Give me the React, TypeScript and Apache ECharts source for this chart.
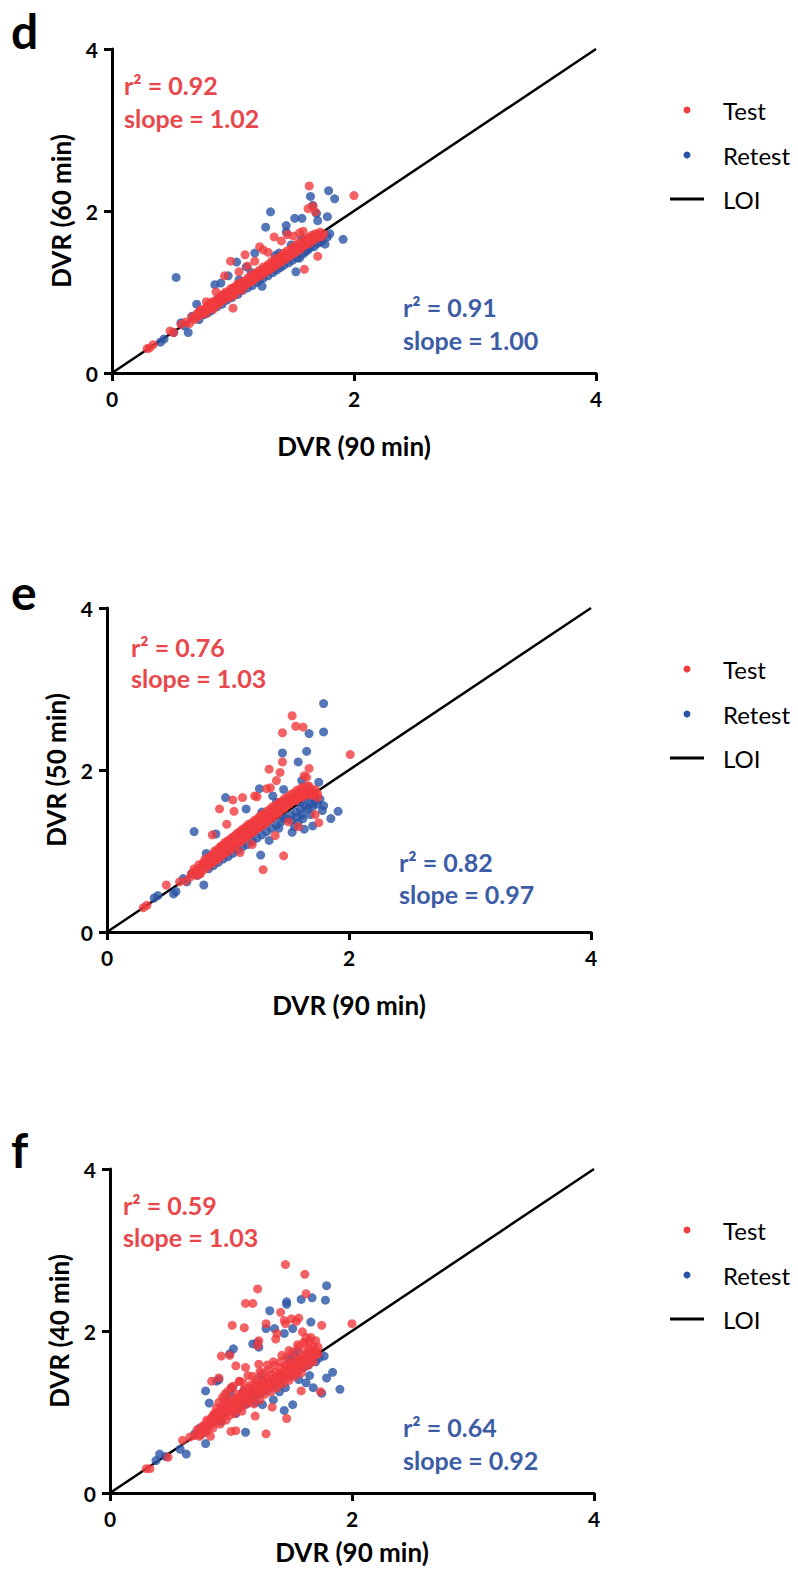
import React, { useEffect, useRef } from "react";
import * as echarts from "echarts";

// ---------- data ----------
const panelLetters = ["d", "e", "f"];
const yAxisNames = ["DVR (60 min)", "DVR (50 min)", "DVR (40 min)"];
const xAxisName = "DVR (90 min)";
const legendLabels = ["Test", "Retest", "LOI"];
const testR2 = ["0.92", "0.76", "0.59"];
const testSlope = ["1.02", "1.03", "1.03"];
const retestR2 = ["0.91", "0.82", "0.64"];
const retestSlope = ["1.00", "0.97", "0.92"];
const loiLine = [[0, 0], [4, 4]];

const dTest = [
  [0.29,0.30],[0.31,0.31],[0.34,0.35],[0.48,0.52],[0.51,0.50],[0.57,0.60],[0.61,0.63],[0.64,0.61],[0.66,0.69],[0.68,0.66],
  [0.70,0.73],[0.71,0.69],[0.73,0.78],[0.74,0.72],[0.75,0.76],[0.77,0.80],[0.78,0.74],[0.79,0.83],[0.80,0.78],[0.81,0.86],
  [0.82,0.81],[0.83,0.88],[0.84,0.79],[0.85,0.87],[0.86,0.90],[0.87,0.84],[0.88,0.92],[0.89,0.87],[0.90,0.95],[0.91,0.89],
  [0.92,0.97],[0.93,0.91],[0.94,1.00],[0.95,0.94],[0.96,0.99],[0.97,0.93],[0.98,1.04],[0.99,0.97],[1.00,1.02],[1.01,0.96],
  [1.02,1.07],[1.03,1.01],[1.04,1.10],[1.05,1.04],[1.06,1.08],[1.07,1.02],[1.08,1.13],[1.09,1.06],[1.10,1.12],[1.11,1.09],
  [1.12,1.17],[1.13,1.11],[1.14,1.15],[1.15,1.21],[1.16,1.13],[1.17,1.19],[1.18,1.16],[1.19,1.24],[1.20,1.18],[1.21,1.22],
  [1.22,1.27],[1.23,1.20],[1.24,1.25],[1.25,1.31],[1.26,1.23],[1.27,1.29],[1.28,1.26],[1.29,1.34],[1.30,1.27],[1.31,1.32],
  [1.32,1.38],[1.33,1.30],[1.34,1.35],[1.35,1.41],[1.36,1.33],[1.37,1.39],[1.38,1.36],[1.39,1.44],[1.40,1.37],[1.41,1.42],
  [1.42,1.48],[1.43,1.40],[1.44,1.45],[1.45,1.51],[1.46,1.43],[1.47,1.49],[1.48,1.46],[1.49,1.55],[1.50,1.47],[1.51,1.52],
  [1.52,1.58],[1.53,1.50],[1.54,1.56],[1.55,1.61],[1.56,1.53],[1.57,1.59],[1.58,1.57],[1.59,1.64],[1.60,1.58],[1.61,1.62],
  [1.62,1.67],[1.63,1.60],[1.64,1.65],[1.65,1.70],[1.66,1.63],[1.67,1.68],[1.68,1.72],[1.69,1.66],[1.71,1.70],[1.73,1.68],[1.75,1.72],
  [0.72,0.75],[0.74,0.77],[0.76,0.75],[0.79,0.80],[0.81,0.81],[0.83,0.84],[0.84,0.86],[0.86,0.85],[0.88,0.89],[0.90,0.91],
  [0.91,0.93],[0.93,0.94],[0.95,0.97],[0.96,0.96],[0.98,1.00],[1.00,1.05],[1.01,1.03],[1.03,1.05],[1.05,1.07],[1.06,1.11],
  [1.08,1.10],[1.10,1.10],[1.11,1.14],[1.13,1.15],[1.15,1.17],[1.16,1.19],[1.18,1.21],[1.20,1.21],[1.22,1.24],[1.23,1.25],
  [1.25,1.27],[1.27,1.28],[1.28,1.31],[1.30,1.32],[1.32,1.34],[1.33,1.36],[1.35,1.37],[1.37,1.38],[1.38,1.41],[1.40,1.42],
  [1.42,1.44],[1.43,1.46],[1.45,1.47],[1.47,1.48],[1.48,1.51],[1.50,1.53],[1.52,1.54],[1.54,1.55],[1.55,1.57],[1.57,1.60],
  [1.59,1.61],[1.61,1.63],[1.62,1.65],[1.64,1.66],[1.66,1.68],[1.68,1.69],[1.70,1.71],[1.72,1.74],
  [1.63,2.31],[2.00,2.19],[1.62,2.03],[1.66,2.06],[1.68,1.99],[1.70,1.44],[1.59,1.28],[0.98,1.38],[1.10,1.46],[1.22,1.56],
  [1.25,1.52],[1.34,1.68],[0.93,1.20],[1.00,0.80],[1.45,1.71],[1.40,1.63],[1.29,1.49],[1.50,1.69],[1.55,1.73],[1.58,1.75],
  [1.18,1.38],[1.12,1.32],[1.05,1.25],[0.86,1.00],[0.78,0.88]
];
const dRetest = [
  [0.40,0.38],[0.43,0.42],[0.51,0.50],[0.53,1.18],[0.57,0.62],[0.63,0.50],[0.70,0.85],[0.72,0.66],[0.76,0.72],[0.79,0.74],
  [0.82,0.77],[0.85,1.09],[0.87,0.82],[0.90,1.11],[0.91,0.85],[0.95,0.90],[0.96,1.20],[0.99,0.93],[1.03,1.37],[1.04,0.97],
  [1.08,1.02],[1.11,1.31],[1.12,1.05],[1.16,1.08],[1.18,1.48],[1.20,1.12],[1.24,1.07],[1.25,1.17],[1.27,1.80],[1.29,1.20],
  [1.31,1.99],[1.33,1.24],[1.36,1.27],[1.39,1.30],[1.42,1.33],[1.44,1.82],[1.44,1.74],[1.46,1.36],[1.49,1.39],[1.51,1.91],
  [1.52,1.25],[1.53,1.42],[1.55,1.42],[1.57,1.91],[1.58,1.47],[1.60,1.50],[1.62,1.52],[1.64,2.18],[1.64,1.55],[1.66,2.07],
  [1.67,1.56],[1.69,1.97],[1.70,1.88],[1.70,1.60],[1.72,1.62],[1.74,1.64],[1.76,1.59],[1.78,1.68],[1.78,1.93],[1.79,2.25],
  [1.84,2.15],[1.91,1.65],[1.80,1.72],[1.05,1.15],[0.93,0.97],[1.15,1.24],[1.35,1.45],[1.48,1.58],[1.22,1.16],[0.88,0.92],
  [0.66,0.70],[0.60,0.58],[1.38,1.48],[1.57,1.66]
];

const eTest = [
  [0.30,0.30],[0.33,0.33],[0.49,0.58],[0.60,0.62],[0.65,0.63],[0.69,0.68],[0.72,0.74],[0.74,0.70],[0.76,0.79],[0.77,0.72],
  [0.79,0.83],[0.80,0.77],[0.82,0.87],[0.83,0.80],[0.84,0.91],[0.86,0.84],[0.87,0.95],[0.88,0.86],[0.90,0.98],[0.91,0.89],
  [0.92,1.03],[0.93,0.92],[0.95,1.06],[0.96,0.95],[0.97,1.10],[0.98,0.98],[1.00,1.12],[1.01,1.00],[1.02,1.15],[1.03,1.03],
  [1.05,1.18],[1.06,1.06],[1.07,1.21],[1.08,1.09],[1.10,1.24],[1.11,1.11],[1.12,1.27],[1.13,1.15],[1.15,1.30],[1.16,1.17],
  [1.17,1.33],[1.18,1.20],[1.20,1.35],[1.21,1.23],[1.22,1.38],[1.23,1.26],[1.25,1.41],[1.26,1.29],[1.27,1.44],[1.28,1.31],
  [1.30,1.46],[1.31,1.34],[1.32,1.49],[1.33,1.37],[1.35,1.52],[1.36,1.40],[1.37,1.55],[1.38,1.43],[1.40,1.57],[1.41,1.46],
  [1.42,1.60],[1.43,1.49],[1.45,1.62],[1.46,1.52],[1.47,1.65],[1.48,1.55],[1.50,1.67],[1.51,1.58],[1.52,1.70],[1.53,1.61],
  [1.55,1.72],[1.56,1.63],[1.57,1.75],[1.58,1.66],[1.60,1.77],[1.61,1.68],[1.62,1.79],[1.63,1.70],[1.65,1.76],[1.66,1.72],
  [1.67,1.80],[1.68,1.69],[1.70,1.74],[1.72,1.70],[1.74,1.66],
  [0.70,0.72],[0.72,0.78],[0.74,0.76],[0.76,0.83],[0.78,0.80],[0.80,0.86],[0.81,0.90],[0.83,0.85],[0.85,0.93],[0.86,0.89],
  [0.88,0.96],[0.89,1.00],[0.91,0.95],[0.93,1.01],[0.94,1.06],[0.96,1.00],[0.98,1.07],[0.99,1.12],[1.01,1.06],[1.03,1.12],
  [1.04,1.17],[1.06,1.11],[1.08,1.18],[1.09,1.23],[1.11,1.16],[1.13,1.22],[1.14,1.28],[1.16,1.21],[1.18,1.28],[1.19,1.33],
  [1.21,1.26],[1.23,1.32],[1.24,1.37],[1.26,1.34],[1.28,1.38],[1.29,1.42],[1.31,1.37],[1.33,1.44],[1.34,1.47],[1.36,1.43],
  [1.38,1.48],[1.39,1.52],[1.41,1.48],[1.43,1.53],[1.44,1.57],[1.46,1.55],[1.48,1.58],[1.49,1.62],[1.51,1.59],[1.53,1.64],
  [1.54,1.67],[1.56,1.62],[1.58,1.68],[1.59,1.72],[1.61,1.66],[1.63,1.73],[1.64,1.69],[1.66,1.75],[1.68,1.73],[1.70,1.69],
  [1.72,1.76],[1.74,1.71],[1.62,1.74],[1.66,1.80],[1.60,1.70],
  [1.53,2.67],[1.56,2.54],[1.62,2.53],[1.45,2.46],[2.01,2.19],[1.45,2.10],[1.34,2.01],[1.43,1.97],[1.63,1.93],[1.67,2.02],
  [1.65,1.91],[1.40,1.87],[1.32,1.77],[1.35,1.78],[1.04,1.63],[1.12,1.66],[1.22,1.68],[1.24,1.67],[0.93,1.52],[1.05,1.49],
  [0.99,1.33],[0.87,1.20],[1.29,0.77],[1.46,0.94],[1.39,1.19],[1.75,1.35],[1.72,1.45],[0.77,0.72],[1.58,1.30],[1.50,1.36],
  [1.20,1.08],[1.10,0.98]
];
const eRetest = [
  [0.39,0.42],[0.42,0.45],[0.55,0.47],[0.57,0.50],[0.63,0.66],[0.72,1.24],[0.75,0.70],[0.80,0.58],[0.82,0.97],[0.84,0.78],
  [0.88,0.82],[0.90,1.21],[0.92,0.86],[0.96,0.90],[0.98,1.66],[1.00,0.93],[1.04,0.97],[1.08,1.01],[1.12,1.05],[1.15,1.52],
  [1.16,1.08],[1.20,1.12],[1.24,1.16],[1.26,1.77],[1.27,0.95],[1.28,1.48],[1.28,1.20],[1.32,1.24],[1.34,1.13],[1.36,1.28],
  [1.37,1.52],[1.37,1.68],[1.40,1.32],[1.40,1.60],[1.44,1.36],[1.45,2.21],[1.46,1.76],[1.48,1.40],[1.52,1.44],[1.53,1.23],
  [1.56,1.48],[1.58,2.10],[1.58,1.35],[1.60,1.52],[1.61,1.87],[1.63,1.27],[1.64,1.55],[1.65,2.23],[1.67,2.45],[1.68,1.58],
  [1.70,1.31],[1.72,1.62],[1.75,1.85],[1.76,1.64],[1.78,1.50],[1.79,1.56],[1.79,2.47],[1.79,2.82],[1.85,1.40],[1.91,1.49],
  [1.55,1.30],[1.62,1.40],[0.95,1.05],[1.10,1.20],[1.30,1.40],[1.50,1.60],[0.70,0.72],[0.66,0.62],[1.42,1.28],[1.68,1.45],
  [1.46,1.40],[1.52,1.38],[1.57,1.42],[1.61,1.45],[1.66,1.52],[1.70,1.55],[1.74,1.58],[1.60,1.60],[1.64,1.65],[1.70,1.66]
];

const fTest = [
  [0.30,0.30],[0.33,0.30],[0.48,0.44],[0.60,0.65],[0.66,0.69],[0.70,0.71],[0.73,0.75],[0.75,0.72],[0.77,0.79],[0.78,0.84],
  [0.80,0.76],[0.81,0.88],[0.82,0.82],[0.84,0.93],[0.85,0.80],[0.86,0.98],[0.87,0.87],[0.88,1.05],[0.89,0.91],[0.90,1.12],
  [0.91,0.85],[0.92,1.00],[0.93,1.18],[0.94,0.94],[0.95,1.08],[0.96,0.90],[0.97,1.25],[0.98,1.02],[0.99,0.96],[1.00,1.15],
  [1.01,1.06],[1.02,1.32],[1.03,0.98],[1.04,1.10],[1.05,1.22],[1.06,1.04],[1.07,1.38],[1.08,1.12],[1.09,1.01],[1.10,1.20],
  [1.11,1.28],[1.12,1.09],[1.13,1.16],[1.14,1.45],[1.15,1.13],[1.16,1.24],[1.17,1.34],[1.18,1.18],[1.19,1.10],[1.20,1.27],
  [1.21,1.40],[1.22,1.21],[1.23,1.32],[1.24,1.15],[1.25,1.26],[1.26,1.48],[1.27,1.30],[1.28,1.22],[1.29,1.36],[1.30,1.28],
  [1.31,1.52],[1.32,1.34],[1.33,1.25],[1.34,1.40],[1.35,1.32],[1.36,1.58],[1.37,1.38],[1.38,1.30],[1.39,1.45],[1.40,1.36],
  [1.41,1.62],[1.42,1.42],[1.43,1.35],[1.44,1.50],[1.45,1.41],[1.46,1.68],[1.47,1.47],[1.48,1.39],[1.49,1.55],[1.50,1.46],
  [1.51,1.74],[1.52,1.52],[1.53,1.44],[1.54,1.60],[1.55,1.50],[1.56,1.80],[1.57,1.57],[1.58,1.48],[1.59,1.65],[1.60,1.55],
  [1.61,1.84],[1.62,1.61],[1.63,1.72],[1.64,1.58],[1.65,1.88],[1.66,1.66],[1.67,1.76],[1.68,1.62],[1.70,1.70],[1.72,1.80],
  [0.72,0.78],[0.74,0.70],[0.76,0.82],[0.79,0.77],[0.80,0.90],[0.83,0.86],[0.85,0.95],[0.87,0.92],[0.88,0.99],[0.90,0.95],
  [0.92,1.06],[0.94,1.02],[0.95,1.13],[0.97,1.05],[0.99,1.10],[1.00,1.01],[1.02,1.15],[1.04,1.08],[1.05,1.17],[1.07,1.12],
  [1.09,1.22],[1.10,1.14],[1.12,1.24],[1.13,1.19],[1.15,1.30],[1.17,1.22],[1.18,1.27],[1.20,1.33],[1.22,1.26],[1.23,1.36],
  [1.25,1.31],[1.27,1.39],[1.28,1.33],[1.30,1.42],[1.32,1.37],[1.33,1.46],[1.35,1.40],[1.37,1.49],[1.38,1.43],[1.40,1.48],
  [1.42,1.55],[1.43,1.46],[1.45,1.57],[1.47,1.52],[1.48,1.60],[1.50,1.56],[1.52,1.63],[1.53,1.58],[1.55,1.66],[1.57,1.62],
  [1.58,1.70],[1.60,1.64],[1.62,1.74],[1.63,1.67],[1.65,1.78],[1.67,1.71],[1.68,1.82],[1.70,1.76],[1.72,1.72],[1.66,1.92],
  [1.60,1.86],[1.55,1.83],[1.48,1.76],[1.42,1.70],[1.35,1.62],[1.30,1.58],[1.24,1.50],[1.18,1.44],[1.10,1.36],[1.00,1.30],
  [0.95,1.22],
  [1.45,2.82],[1.61,2.70],[1.22,2.52],[1.12,2.34],[1.18,2.34],[1.62,2.46],[1.01,2.07],[1.11,2.04],[1.29,2.09],[1.41,2.23],
  [1.44,2.13],[1.45,2.09],[1.50,2.15],[1.54,2.12],[1.56,2.16],[1.75,2.07],[2.00,2.09],[1.59,1.99],[1.62,1.92],[1.70,1.88],
  [0.92,1.69],[0.99,1.70],[1.22,1.82],[1.23,1.88],[1.37,1.90],[1.38,1.97],[1.04,1.57],[1.12,1.55],[1.23,1.59],[0.90,1.42],
  [1.07,1.38],[0.84,1.38],[1.58,1.26],[1.74,1.25],[1.29,0.73],[1.00,0.76],[1.04,0.77],[1.46,0.92],[1.34,1.06],[1.20,0.95],
  [0.83,0.70]
];
const fRetest = [
  [0.38,0.40],[0.41,0.48],[0.46,0.45],[0.58,0.54],[0.63,0.48],[0.70,0.73],[0.74,0.80],[0.77,0.74],[0.79,0.61],[0.79,1.26],
  [0.82,1.11],[0.84,0.86],[0.88,1.38],[0.90,1.40],[0.92,0.88],[0.96,1.00],[0.99,1.23],[0.99,1.72],[1.01,1.30],[1.02,1.78],
  [1.04,0.98],[1.08,1.06],[1.12,0.75],[1.13,1.10],[1.16,1.16],[1.18,1.84],[1.20,1.12],[1.22,1.86],[1.23,1.80],[1.24,1.22],
  [1.26,1.09],[1.28,1.26],[1.29,2.03],[1.32,2.25],[1.33,1.30],[1.36,2.03],[1.37,1.34],[1.40,1.25],[1.42,1.40],[1.44,1.02],
  [1.44,1.97],[1.46,2.33],[1.46,2.36],[1.48,1.66],[1.49,1.44],[1.50,1.63],[1.51,1.09],[1.51,2.03],[1.52,1.69],[1.55,1.50],
  [1.58,2.39],[1.60,1.55],[1.62,1.36],[1.64,1.58],[1.66,2.11],[1.67,2.41],[1.68,1.30],[1.70,1.62],[1.73,1.67],[1.75,1.23],
  [1.77,1.69],[1.78,2.38],[1.79,2.56],[1.79,1.42],[1.84,1.49],[1.90,1.28],[1.56,1.40],[1.35,1.15],[1.10,1.25],[0.95,1.15],
  [1.65,1.45],[1.45,1.30],[0.86,0.95],[1.25,1.45],[1.55,1.75]
];

const testData = [dTest, eTest, fTest];
const retestData = [dRetest, eRetest, fRetest];

// ---------- layout & style ----------
const RED = "#F03B3F";
const BLUE = "#2A54A5";
const RED_TXT = "#E8474C";
const BLUE_TXT = "#3C5CA6";
const FONT = "Lato, 'Open Sans', sans-serif";
const GRID_W = 484;
const GRID_H = 324;
const LAYOUT = [
  { top: 49, left: 112, redX: 124, redY: [85, 118], blueX: 403, blueY: [307, 340], letterTop: 6, xNameGap: 60 },
  { top: 608, left: 107, redX: 131, redY: [647, 678], blueX: 399, blueY: [862, 894], letterTop: 567, xNameGap: 60 },
  { top: 1169, left: 110, redX: 123, redY: [1205, 1237], blueX: 403, blueY: [1427, 1460], letterTop: 1125, xNameGap: 46 },
];

export default function App() {
  const ref = useRef<HTMLDivElement>(null);

  useEffect(() => {
    document.body.style.margin = "0";
    if (!ref.current) return;
    const chart = echarts.init(ref.current, undefined, { renderer: "svg" });

    const grids = LAYOUT.map((l) => ({ left: l.left, top: l.top, width: GRID_W, height: GRID_H }));
    const axisCommon = {
      type: "value" as const,
      min: 0,
      max: 4,
      interval: 2,
      axisLine: { show: true, onZero: false, lineStyle: { color: "#000", width: 3 } },
      axisTick: { show: true, length: 8, lineStyle: { color: "#000", width: 3 } },
      splitLine: { show: false },
      nameLocation: "middle" as const,
      nameTextStyle: { fontSize: 26, fontWeight: "bold", color: "#000", fontFamily: FONT },
    };
    const xAxes = LAYOUT.map((l, i) => ({
      ...axisCommon,
      gridIndex: i,
      name: xAxisName,
      nameGap: l.xNameGap,
      axisLabel: { fontSize: 21, fontWeight: "bold", color: "#000", fontFamily: FONT, margin: 15 },
    }));
    const yAxes = LAYOUT.map((_, i) => ({
      ...axisCommon,
      gridIndex: i,
      name: yAxisNames[i],
      nameGap: 38,
      axisLabel: { fontSize: 21, fontWeight: "bold", color: "#000", fontFamily: FONT, margin: 14 },
    }));

    const series: any[] = [];
    LAYOUT.forEach((_, i) => {
      series.push({
        name: "LOI",
        type: "line",
        xAxisIndex: i,
        yAxisIndex: i,
        data: loiLine,
        symbol: "none",
        lineStyle: { color: "#000", width: 2.5 },
        z: 1,
      });
      series.push({
        name: "Retest",
        type: "scatter",
        xAxisIndex: i,
        yAxisIndex: i,
        data: retestData[i],
        symbolSize: 9,
        itemStyle: { color: BLUE },
        z: 2,
      });
      series.push({
        name: "Test",
        type: "scatter",
        xAxisIndex: i,
        yAxisIndex: i,
        data: testData[i],
        symbolSize: 9,
        itemStyle: { color: RED },
        z: 3,
      });
    });

    const graphics: any[] = [];
    LAYOUT.forEach((l, i) => {
      const off = l.top - LAYOUT[0].top;
      graphics.push({
        type: "text",
        x: 11,
        y: l.letterTop,
        style: {
          text: panelLetters[i],
          fill: "#000",
          fontSize: 48,
          fontWeight: "bold",
          fontFamily: FONT,
          verticalAlign: "top",
        },
      });
      const ann = (x: number, y: number, text: string, fill: string) => ({
        type: "text",
        x,
        y,
        style: { text, fill, fontSize: 25, fontWeight: "bold", fontFamily: FONT, verticalAlign: "middle", align: "left" },
      });
      graphics.push(ann(l.redX, l.redY[0], "r\u00B2 = " + testR2[i], RED_TXT));
      graphics.push(ann(l.redX, l.redY[1], "slope = " + testSlope[i], RED_TXT));
      graphics.push(ann(l.blueX, l.blueY[0], "r\u00B2 = " + retestR2[i], BLUE_TXT));
      graphics.push(ann(l.blueX, l.blueY[1], "slope = " + retestSlope[i], BLUE_TXT));

      const ly = [110 + off, 155 + off, 199 + off];
      graphics.push({ type: "circle", shape: { cx: 687, cy: ly[0], r: 3.5 }, style: { fill: RED } });
      graphics.push({ type: "circle", shape: { cx: 687, cy: ly[1], r: 3.5 }, style: { fill: BLUE } });
      graphics.push({
        type: "line",
        shape: { x1: 670, y1: ly[2], x2: 704, y2: ly[2] },
        style: { stroke: "#000", lineWidth: 3 },
      });
      legendLabels.forEach((t, k) => {
        graphics.push({
          type: "text",
          x: 723,
          y: ly[k],
          style: { text: t, fill: "#000", fontSize: 24, fontFamily: FONT, verticalAlign: "middle", align: "left" },
        });
      });
    });

    chart.setOption({
      animation: false,
      backgroundColor: "#fff",
      grid: grids,
      xAxis: xAxes,
      yAxis: yAxes,
      series,
      graphic: graphics,
    });
    return () => chart.dispose();
  }, []);

  return <div ref={ref} style={{ width: 798, height: 1569 }} />;
}
